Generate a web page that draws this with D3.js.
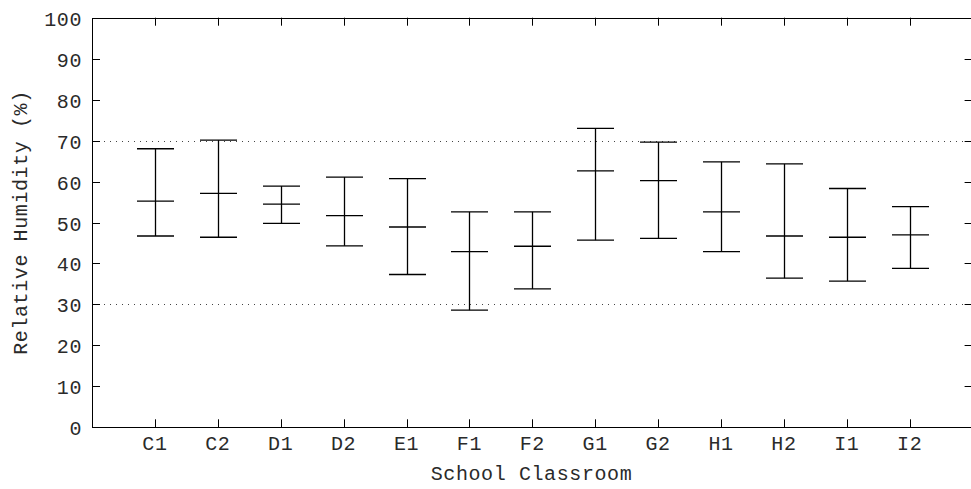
<!DOCTYPE html>
<html><head><meta charset="utf-8">
<script src="https://cdn.jsdelivr.net/npm/d3@7"></script>
<style>
html,body{margin:0;padding:0;background:#fff;}
svg text{font-family:"Liberation Mono","Courier New",monospace;fill:#2a2a2a;}
</style>
</head><body>
<svg id="chart" width="971" height="489"></svg>
<script>
const categories = ["C1","C2","D1","D2","E1","F1","F2","G1","G2","H1","H2","I1","I2"];
const meanValues = [55.2,57.1,54.5,51.7,48.9,42.9,44.2,62.6,60.2,52.6,46.7,46.4,47.0];
const minValues  = [46.7,46.4,49.8,44.3,37.3,28.6,33.8,45.7,46.1,42.9,36.4,35.7,38.8];
const maxValues  = [68.0,70.1,58.9,61.1,60.7,52.6,52.6,73.0,69.6,64.8,64.3,58.3,53.9];
const yTicks = [0,10,20,30,40,50,60,70,80,90,100];
const limitLines = [30,70];
const yTitle = "Relative Humidity (%)";
const xTitle = "School Classroom";

const svg = d3.select("#chart");
const L = 92, R = 972.6, T = 17.7, B = 427.3;
const x = d3.scaleLinear().domain([0, categories.length + 1]).range([L, R]);
const y = d3.scaleLinear().domain([0, 100]).range([B, T]);
const tickLen = 8;
const fs = 20;
const ls = "0.6px";

// limit lines
svg.selectAll(".limit").data(limitLines).enter().append("line")
  .attr("x1", L).attr("x2", R)
  .attr("y1", d => Math.round(y(d)) + 0.5).attr("y2", d => Math.round(y(d)) + 0.5)
  .attr("stroke", "#444").attr("stroke-width", 1).attr("stroke-dasharray", "1,5");

// frame
svg.append("rect").attr("x", Math.round(L)+0.5).attr("y", Math.round(T)+0.5)
  .attr("width", R - L).attr("height", Math.round(B) - Math.round(T))
  .attr("fill", "none").attr("stroke", "#000").attr("stroke-width", 1);

// y ticks (left and right, inward)
const yt = svg.append("g");
yTicks.forEach(v => {
  const yy = Math.round(y(v)) + 0.5;
  yt.append("line").attr("x1", L).attr("x2", L + tickLen).attr("y1", yy).attr("y2", yy).attr("stroke", "#000");
  yt.append("line").attr("x1", R - tickLen).attr("x2", R).attr("y1", yy).attr("y2", yy).attr("stroke", "#000");
  yt.append("text").attr("x", 82).attr("y", yy).attr("dy", "0.35em")
    .attr("text-anchor", "end").attr("font-size", fs).attr("letter-spacing", ls).text(v);
});

// x ticks (bottom and top, inward)
const xt = svg.append("g");
categories.forEach((c, i) => {
  const xx = Math.round(x(i + 1)) + 0.5;
  xt.append("line").attr("x1", xx).attr("x2", xx).attr("y1", B).attr("y2", B - tickLen).attr("stroke", "#000");
  xt.append("line").attr("x1", xx).attr("x2", xx).attr("y1", T).attr("y2", T + tickLen).attr("stroke", "#000");
  xt.append("text").attr("x", x(i + 1)).attr("y", 443).attr("dy", "0.35em")
    .attr("text-anchor", "middle").attr("font-size", fs).attr("letter-spacing", ls).text(c);
});

// error bars
const capHalf = 18.5;
const bars = svg.append("g").attr("stroke", "#000").attr("stroke-width", 1.3);
categories.forEach((c, i) => {
  const xx = Math.round(x(i + 1)) + 0.5;
  bars.append("line").attr("x1", xx).attr("x2", xx).attr("y1", y(minValues[i])).attr("y2", y(maxValues[i]));
  [minValues[i], meanValues[i], maxValues[i]].forEach(v => {
    bars.append("line").attr("x1", xx - capHalf).attr("x2", xx + capHalf).attr("y1", y(v)).attr("y2", y(v));
  });
});

// titles
svg.append("text").attr("x", 531.5).attr("y", 473).attr("dy", "0.35em")
  .attr("text-anchor", "middle").attr("font-size", fs).attr("letter-spacing", ls).text(xTitle);
svg.append("text").attr("transform", `translate(20,${(T + B) / 2}) rotate(-90)`)
  .attr("dy", "0.35em").attr("text-anchor", "middle").attr("font-size", fs).attr("letter-spacing", ls).text(yTitle);
</script>
</body></html>
